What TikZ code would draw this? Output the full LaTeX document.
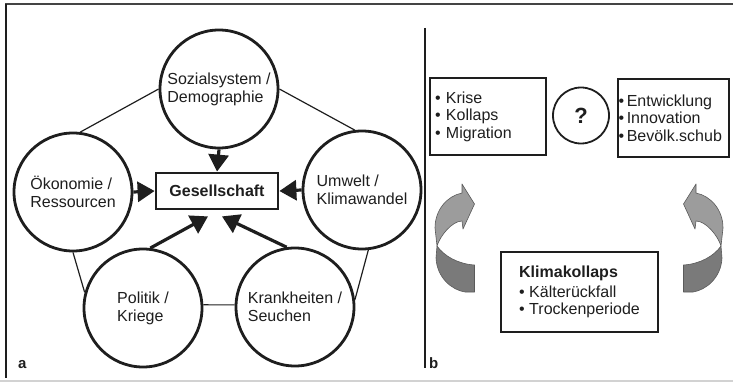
\documentclass[tikz,border=0pt]{standalone}
\usepackage{fontspec}
\setmainfont{Liberation Sans}
\usetikzlibrary{arrows.meta,calc}
\definecolor{ink}{HTML}{1E1E1E}
\definecolor{arrlight}{HTML}{9C9C9C}
\definecolor{arrdark}{HTML}{7A7A7A}
\definecolor{arredge}{HTML}{5A5A5A}
\definecolor{frameline}{HTML}{444444}
\definecolor{bottomrule}{HTML}{D2D2D2}
\begin{document}
\begin{tikzpicture}[x=1pt,y=-1pt,
  every node/.style={text=ink},
  circ/.style={circle,draw=ink,line width=2.8pt,minimum size=118pt,inner sep=0pt,
    align=left,font=\fontsize{16}{18}\selectfont,fill=white},
  thinline/.style={draw=ink,line width=1.2pt},
  bigarrow/.style={draw=ink,line width=3.2pt,-{Triangle[length=17pt,width=20pt]}},
  gbox/.style={draw=ink,line width=2.8pt,minimum width=122pt,minimum height=36pt,
    inner sep=0pt,font=\bfseries\fontsize{16}{18}\selectfont},
  listbox/.style={draw=ink,line width=2.6pt,align=left,
    font=\fontsize{16}{17.5}\selectfont},
  panellabel/.style={anchor=base west,inner sep=0pt,font=\bfseries\fontsize{15}{15}\selectfont},
  twistlight/.style={fill=arrlight,draw=arredge,line width=0.6pt,line join=round},
  twistdark/.style={fill=arrdark,draw=arredge,line width=0.6pt,line join=round},
  twist/.pic={
    \path[twistdark] (437,246) -- (436,258) .. controls (437,278) and (452,290) .. (465,292)
      -- (474.5,292) -- (474.5,265) .. controls (458,264) and (444,256) .. (437,246) -- cycle;
    \path[twistlight] (462,193) -- (462,184) -- (474.5,204) -- (463,229) -- (462,221)
      .. controls (452,221) and (440,236) .. (437,246) -- (435,228)
      .. controls (435,210) and (447,196) .. (462,193) -- cycle;
  }
]
\useasboundingbox (0,0) rectangle (733,382);
% frame
\draw[frameline,line width=1.5pt] (5,4) -- (733,4);
\draw[ink,line width=1.5pt] (6,4) -- (6,378);
\draw[bottomrule,line width=2pt] (0,380.5) -- (733,380.5);
% divider
\draw[ink,line width=1.6pt] (425,28) -- (425,368);

% panel a
\node[gbox] (ges) at (217,191) {Gesellschaft};
\node[circ] (soz) at (219,89) {Sozialsystem /\\Demographie};
\node[circ] (oek) at (73,192) {Ökonomie /\\Ressourcen};
\node[circ] (umw) at (362,190) {Umwelt /\\Klimawandel};
\node[circ] (pol) at (143,308) {Politik /\\Kriege};
\node[circ] (kra) at (295,307) {Krankheiten /\\Seuchen};

\draw[thinline] (soz.west) -- (oek.83);
\draw[thinline] (soz.east) -- (umw.97);
\draw[thinline] (oek.270) -- (pol.165);
\draw[thinline] (pol.3) -- (kra.178);
\draw[thinline] (umw.276) -- (kra.7);

\draw[bigarrow] (soz.south) -- (ges.north);
\draw[bigarrow] (oek.east) -- (ges.west);
\draw[bigarrow] (umw.west) -- (ges.east);
\draw[bigarrow] (pol.83) -- ([xshift=-9pt,yshift=-6pt]ges.south);
\draw[bigarrow] (kra.98) -- ([xshift=5pt,yshift=-6pt]ges.south);

\node[panellabel] (la) at (18,368) {a};

% panel b
\node[listbox,text width=106pt,inner sep=5pt,minimum height=77pt] (krise) at (488,116.5)
  {• Krise\\• Kollaps\\• Migration};
\node[circle,draw=ink,line width=1.8pt,minimum size=56pt,inner sep=0pt,
  font=\bfseries\fontsize{22}{22}\selectfont] (q) at (581,115.5) {?};
\node[listbox,text width=110pt,inner sep=0.5pt,minimum height=78pt] (entw) at (673.5,118)
  {•\,Entwicklung\\•\,Innovation\\•\,Bevölk.schub};
\node[listbox,minimum width=157pt,minimum height=80pt,inner sep=0pt] (klima) at (579.5,292)
  {\textbf{Klimakollaps}\\[2pt]• Kälterückfall\\• Trockenperiode};

\pic (arrL) at (0,0) {twist};
\pic[xscale=-1] (arrR) at (1158,0) {twist};

\node[panellabel] (lb) at (429,368) {b};
\end{tikzpicture}
\end{document}
